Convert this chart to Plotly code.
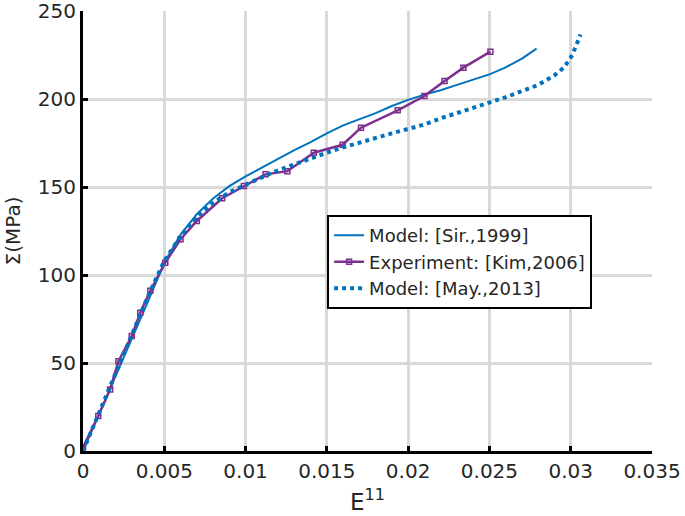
import plotly.graph_objects as go

# Model: [Sir.,1999]
sir_x = [0, 0.001, 0.002, 0.003, 0.004, 0.005, 0.006, 0.007, 0.008, 0.009, 0.010,
         0.011, 0.012, 0.013, 0.014, 0.015, 0.016, 0.017, 0.018, 0.019, 0.020,
         0.021, 0.022, 0.023, 0.024, 0.025, 0.026, 0.027, 0.0279]
sir_y = [0, 21, 42, 63, 85, 107, 123, 134.5, 143.5, 150.5, 156,
         161, 166, 171, 175.5, 180.5, 185, 188.5, 192, 196, 199.5,
         202.5, 205, 208, 211, 214, 218, 223, 228.6]

# Experiment: [Kim,2006]
kim_x = [0, 0.00094, 0.00167, 0.00218, 0.0030, 0.00352, 0.00414, 0.00506, 0.0060,
         0.0070, 0.00856, 0.0099, 0.01123, 0.01257, 0.0142, 0.01597, 0.0171,
         0.01936, 0.0210, 0.02224, 0.0234, 0.02506]
kim_y = [2, 19.9, 35, 51, 65.3, 78.6, 91, 107, 120.3,
         130.7, 143.6, 150.6, 157.2, 159, 169.5, 174, 183.7,
         193.6, 201.7, 210.2, 217.8, 226.9]

# Model: [May.,2013]
may_x = [0, 0.001, 0.002, 0.003, 0.004, 0.005, 0.006, 0.007, 0.008, 0.009, 0.010,
         0.011, 0.012, 0.013, 0.014, 0.015, 0.016, 0.017, 0.018, 0.019, 0.020,
         0.021, 0.022, 0.023, 0.024, 0.025, 0.026, 0.027, 0.028, 0.029, 0.0296,
         0.0301, 0.0306]
may_y = [0, 22, 44, 66, 88, 108, 122, 133, 141, 147, 151.5,
         155.5, 159.5, 163, 166.5, 169.5, 172.5, 175.3, 177.8, 180.5, 183,
         185.5, 189, 192, 195, 197.8, 201, 204.5, 208, 213.5, 218,
         225, 236.7]

x_ticks = [0, 0.005, 0.01, 0.015, 0.02, 0.025, 0.03, 0.035]
x_tick_labels = ["0", "0.005", "0.01", "0.015", "0.02", "0.025", "0.03", "0.035"]
y_ticks = [0, 50, 100, 150, 200, 250]

BLUE = "#0072BD"
PURPLE = "#7E2F8E"
FONT = "DejaVu Sans"
INK = "#262626"

fig = go.Figure()
fig.add_trace(go.Scatter(x=sir_x, y=sir_y, mode="lines", name="Model: [Sir.,1999]",
                         line=dict(color=BLUE, width=2)))
fig.add_trace(go.Scatter(x=kim_x, y=kim_y, mode="lines+markers", name="Experiment: [Kim,2006]",
                         line=dict(color=PURPLE, width=2.5),
                         marker=dict(symbol="square-open", size=5, color=PURPLE,
                                     line=dict(color=PURPLE, width=1.5))))
fig.add_trace(go.Scatter(x=may_x, y=may_y, mode="lines", name="Model: [May.,2013]",
                         line=dict(color=BLUE, width=4, dash="dot")))

fig.update_layout(
    width=685, height=516,
    margin=dict(l=83, r=33, t=11, b=65, autoexpand=False),
    paper_bgcolor="white", plot_bgcolor="white",
    font=dict(family=FONT, size=20, color=INK),
    showlegend=True,
    legend=dict(x=0.429, y=0.536, xanchor="left", yanchor="top",
                bgcolor="white", bordercolor="black", borderwidth=2,
                font=dict(family=FONT, size=18, color=INK),
                tracegroupgap=0),
    xaxis=dict(range=[0, 0.035], tickvals=x_ticks, ticktext=x_tick_labels,
               showgrid=True, gridcolor="#d9d9d9", gridwidth=2.5,
               showline=True, linecolor="black", linewidth=3,
               ticks="inside", ticklen=5, tickwidth=2.5, tickcolor="black",
               zeroline=False, automargin=False, ticklabeloverflow="allow",
               title=dict(text="E<sup>11</sup>", font=dict(size=23), standoff=12)),
    yaxis=dict(range=[0, 250], tickvals=y_ticks,
               showgrid=True, gridcolor="#d9d9d9", gridwidth=2.5,
               showline=True, linecolor="black", linewidth=3,
               ticks="inside", ticklen=5, tickwidth=2.5, tickcolor="black",
               zeroline=False, automargin=False, ticklabeloverflow="allow",
               title=dict(text="Σ(MPa)", font=dict(size=20), standoff=12)),
)

fig.write_html("out.html", config={"displayModeBar": False},
               post_script="document.body.style.margin='0';")
